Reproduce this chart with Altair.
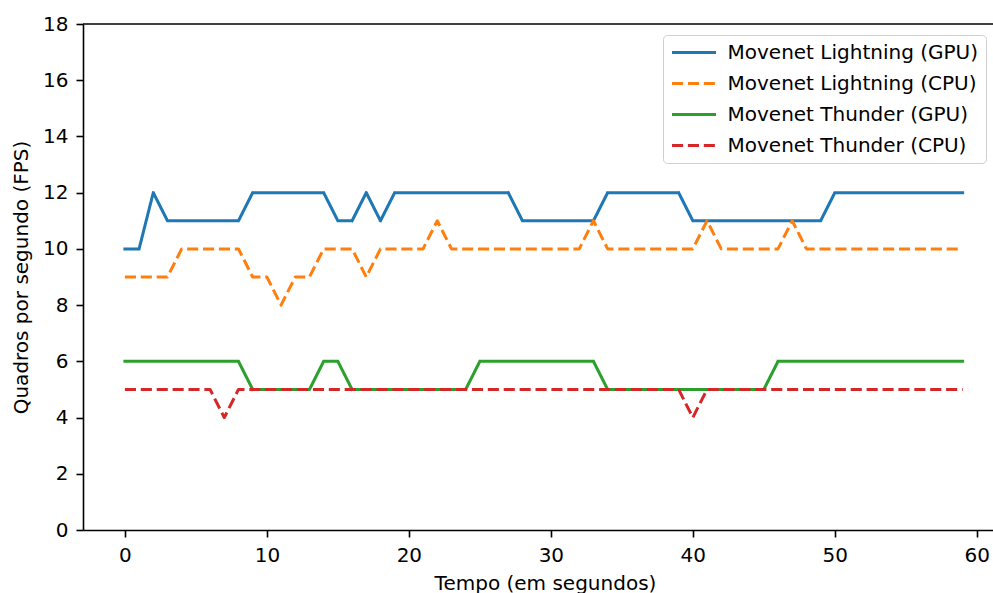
import altair as alt
import pandas as pd

seconds = list(range(60))

lightning_gpu = [10, 10, 12, 11, 11, 11, 11, 11, 11, 12,
                 12, 12, 12, 12, 12, 11, 11, 12, 11, 12,
                 12, 12, 12, 12, 12, 12, 12, 12, 11, 11,
                 11, 11, 11, 11, 12, 12, 12, 12, 12, 12,
                 11, 11, 11, 11, 11, 11, 11, 11, 11, 11,
                 12, 12, 12, 12, 12, 12, 12, 12, 12, 12]
lightning_cpu = [9, 9, 9, 9, 10, 10, 10, 10, 10, 9,
                 9, 8, 9, 9, 10, 10, 10, 9, 10, 10,
                 10, 10, 11, 10, 10, 10, 10, 10, 10, 10,
                 10, 10, 10, 11, 10, 10, 10, 10, 10, 10,
                 10, 11, 10, 10, 10, 10, 10, 11, 10, 10,
                 10, 10, 10, 10, 10, 10, 10, 10, 10, 10]
thunder_gpu = [6, 6, 6, 6, 6, 6, 6, 6, 6, 5,
               5, 5, 5, 5, 6, 6, 5, 5, 5, 5,
               5, 5, 5, 5, 5, 6, 6, 6, 6, 6,
               6, 6, 6, 6, 5, 5, 5, 5, 5, 5,
               5, 5, 5, 5, 5, 5, 6, 6, 6, 6,
               6, 6, 6, 6, 6, 6, 6, 6, 6, 6]
thunder_cpu = [5, 5, 5, 5, 5, 5, 5, 4, 5, 5,
               5, 5, 5, 5, 5, 5, 5, 5, 5, 5,
               5, 5, 5, 5, 5, 5, 5, 5, 5, 5,
               5, 5, 5, 5, 5, 5, 5, 5, 5, 5,
               4, 5, 5, 5, 5, 5, 5, 5, 5, 5,
               5, 5, 5, 5, 5, 5, 5, 5, 5, 5]

series_names = ["Movenet Lightning (GPU)", "Movenet Lightning (CPU)",
                "Movenet Thunder (GPU)", "Movenet Thunder (CPU)"]
series_values = [lightning_gpu, lightning_cpu, thunder_gpu, thunder_cpu]
series_colors = ["#1f77b4", "#ff7f0e", "#2ca02c", "#d62728"]
series_dashes = [[1, 0], [11.1, 4.8], [1, 0], [11.1, 4.8]]
series_caps = ["square", "butt", "square", "butt"]

x_ticks = [0, 10, 20, 30, 40, 50, 60]
y_ticks = [0, 2, 4, 6, 8, 10, 12, 14, 16, 18]

rows = []
for name, vals in zip(series_names, series_values):
    for s, v in zip(seconds, vals):
        rows.append({"t": s, "fps": v, "serie": name})
df = pd.DataFrame(rows)

FONT = "DejaVu Sans"

legend = alt.Legend(
    title=None, orient="none", legendX=580, legendY=11,
    symbolType="stroke", symbolSize=1936, symbolStrokeWidth=3,
    labelFont=FONT, labelFontSize=20, labelColor="black", labelLimit=400,
    labelOffset=10, rowPadding=11, clipHeight=20, padding=7.5,
    fillColor="white", strokeColor="#d0d0d0", cornerRadius=4,
)

x = alt.X("t:Q",
          scale=alt.Scale(domain=[-2.95, 61.14], nice=False, zero=False),
          axis=alt.Axis(values=x_ticks, title="Tempo (em segundos)",
                        labelBaseline="alphabetic", labelPadding=24,
                        labelFlush=False, labelOverlap=False,
                        titleX=462, titleY=59.6, titleAlign="center",
                        titleBaseline="alphabetic"))
y = alt.Y("fps:Q",
          scale=alt.Scale(domain=[0, 18], nice=False),
          axis=alt.Axis(values=y_ticks, title="Quadros por segundo (FPS)",
                        labelPadding=8, titleX=-61.5, titleY=253,
                        titleAngle=270, titleAlign="center",
                        titleBaseline="middle"))
color = alt.Color("serie:N", scale=alt.Scale(domain=series_names, range=series_colors),
                  legend=legend)
dash = alt.StrokeDash("serie:N", scale=alt.Scale(domain=series_names, range=series_dashes),
                      legend=legend)

layers = []
for name, cap in zip(series_names, series_caps):
    layers.append(
        alt.Chart(df)
        .transform_filter(alt.datum.serie == name)
        .mark_line(strokeWidth=3, strokeJoin="round", strokeCap=cap)
        .encode(x=x, y=y, color=color, strokeDash=dash)
    )

top_border = alt.Chart(pd.DataFrame({"fps": [18]})).mark_rule(
    color="black", strokeWidth=1.6).encode(y=alt.Y("fps:Q"))

chart = (
    alt.layer(*layers, top_border)
    .properties(width=910, height=506,
                autosize=alt.AutoSizeParams(type="none"),
                padding={"left": 83, "top": 24, "right": 0, "bottom": 63})
    .configure_view(stroke=None)
    .configure_axis(grid=False, domainColor="black", domainWidth=1.6,
                    tickColor="black", tickWidth=1.6, tickSize=7,
                    labelFont=FONT, labelFontSize=20, labelColor="black",
                    titleFont=FONT, titleFontSize=20, titleColor="black",
                    titleFontWeight="normal")
)

chart.save("out.html", embed_options={"renderer": "svg", "actions": False})
